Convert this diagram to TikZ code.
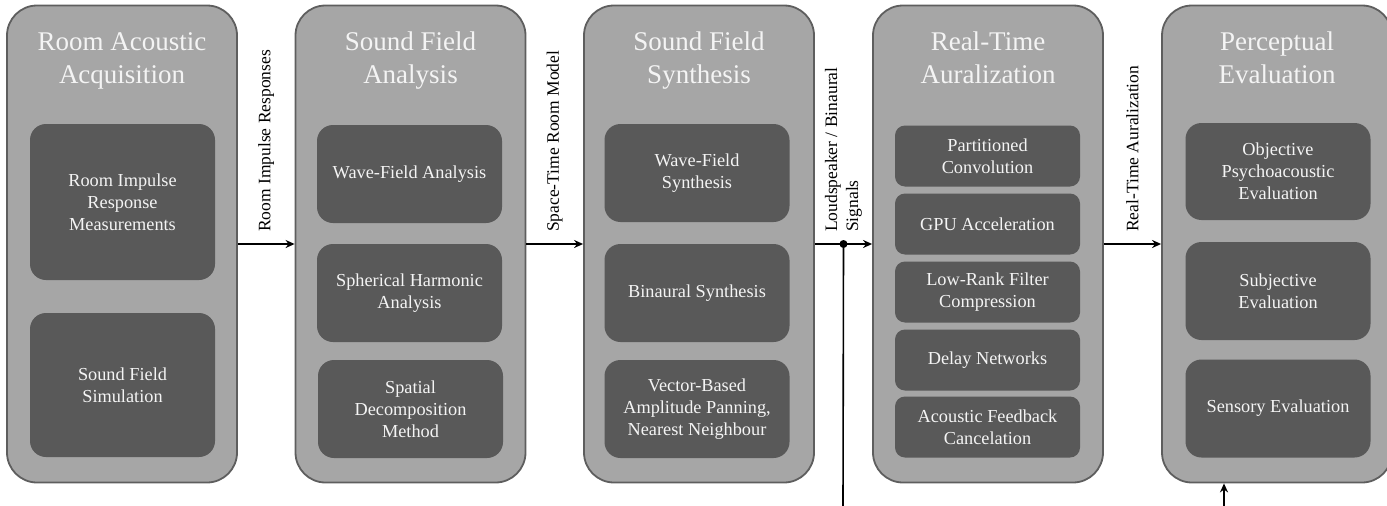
\documentclass[tikz,border=0pt]{standalone}
\usepackage{fontspec}
\setmainfont{Liberation Serif}
\usetikzlibrary{arrows.meta,calc}

\definecolor{stagegray}{HTML}{A6A6A6}
\definecolor{taskgray}{HTML}{595959}
\definecolor{rimgray}{HTML}{5E5E5E}
\definecolor{textwhite}{HTML}{F4F4F4}

\begin{document}
\begin{tikzpicture}[x=1pt,y=-1pt,>={Stealth[length=9pt,width=8pt]},
  stage/.style={draw=rimgray, line width=1.8pt, fill=stagegray,
    rounded corners=30pt, minimum width=230pt, minimum height=477pt},
  title/.style={text=textwhite, align=center, anchor=north, inner sep=0pt,
    font=\fontsize{27}{33}\selectfont},
  task/.style={fill=taskgray, text=textwhite, align=center, rounded corners=16pt,
    minimum width=185pt, minimum height=98pt, inner sep=2pt,
    font=\fontsize{18.3}{22}\selectfont},
  subtask/.style={task, rounded corners=10pt, minimum height=61pt},
  flow/.style={line width=1.6pt, ->},
  flowlabel/.style={rotate=90, anchor=west, align=left, inner sep=0pt,
    font=\fontsize{17.5}{21}\selectfont}]
  \useasboundingbox (0,0) rectangle (1387,506);

  \node[stage] (acq) at (122,244) {};
  \node[title] (acqtitle) at (122,32) {Room Acoustic\\Acquisition};
  \node[task, minimum height=156pt] (rirm) at (122.5,202) {Room Impulse\\Response\\Measurements};
  \node[task, minimum height=144pt] (sfsim) at (122.5,385) {Sound Field\\Simulation};

  \node[stage] (ana) at (410.5,244) {};
  \node[title] (anatitle) at (410.5,32) {Sound Field\\Analysis};
  \node[task] (wfa) at (409.5,174) {Wave-Field Analysis};
  \node[task] (sha) at (409.5,293) {Spherical Harmonic\\Analysis};
  \node[task] (sdm) at (410.5,409) {Spatial\\Decomposition\\Method};

  \node[stage] (syn) at (699,244) {};
  \node[title] (syntitle) at (699,32) {Sound Field\\Synthesis};
  \node[task] (wfs) at (697,173) {Wave-Field\\Synthesis};
  \node[task] (bin) at (697,293) {Binaural Synthesis};
  \node[task] (vbap) at (697,409) {Vector-Based\\Amplitude Panning,\\Nearest Neighbour};

  \node[stage] (aur) at (988,244) {};
  \node[title] (aurtitle) at (988,32) {Real-Time\\Auralization};
  \node[subtask] (pconv) at (987.5,156) {Partitioned\\Convolution};
  \node[subtask] (gpu) at (987.5,224) {GPU Acceleration};
  \node[subtask] (lowrank) at (987.5,292) {Low-Rank Filter\\Compression};
  \node[subtask] (delay) at (987.5,360) {Delay Networks};
  \node[subtask] (afc) at (987.5,427) {Acoustic Feedback\\Cancelation};

  \node[stage] (per) at (1277,244) {};
  \node[title] (pertitle) at (1277,32) {Perceptual\\Evaluation};
  \node[task, minimum height=97pt] (obj) at (1278,171.5) {Objective\\Psychoacoustic\\Evaluation};
  \node[task] (subj) at (1278,291) {Subjective\\Evaluation};
  \node[task] (sens) at (1278,408.5) {Sensory Evaluation};

  \draw[flow] (acq) -- (ana);
  \draw[flow] (ana) -- (syn);
  \draw[flow] (syn) -- (aur);
  \draw[flow] (aur) -- (per);

  \node[flowlabel] (lrir) at ([yshift=12pt]$(acq.east)!0.5!(ana.west)$) {Room Impulse Responses};
  \node[flowlabel] (lmodel) at ([yshift=12pt]$(ana.east)!0.5!(syn.west)$) {Space-Time Room Model};
  \node[flowlabel] (lsig) at ([yshift=12pt]$(syn.east)!0.5!(aur.west)$) {Loudspeaker / Binaural\\Signals};
  \node[flowlabel] (laur) at ([yshift=12pt]$(aur.east)!0.5!(per.west)$) {Real-Time Auralization};

  \coordinate (split) at ($(syn.east)!0.5!(aur.west)$);
  \coordinate (fbout) at (843,506);
  \coordinate (fbin) at (1224,506);
  \fill (split) circle (4pt);
  \draw[line width=1.6pt] (split) -- (fbout);
  \draw[flow] (fbin) -- (fbin |- per.south);
\end{tikzpicture}
\end{document}
